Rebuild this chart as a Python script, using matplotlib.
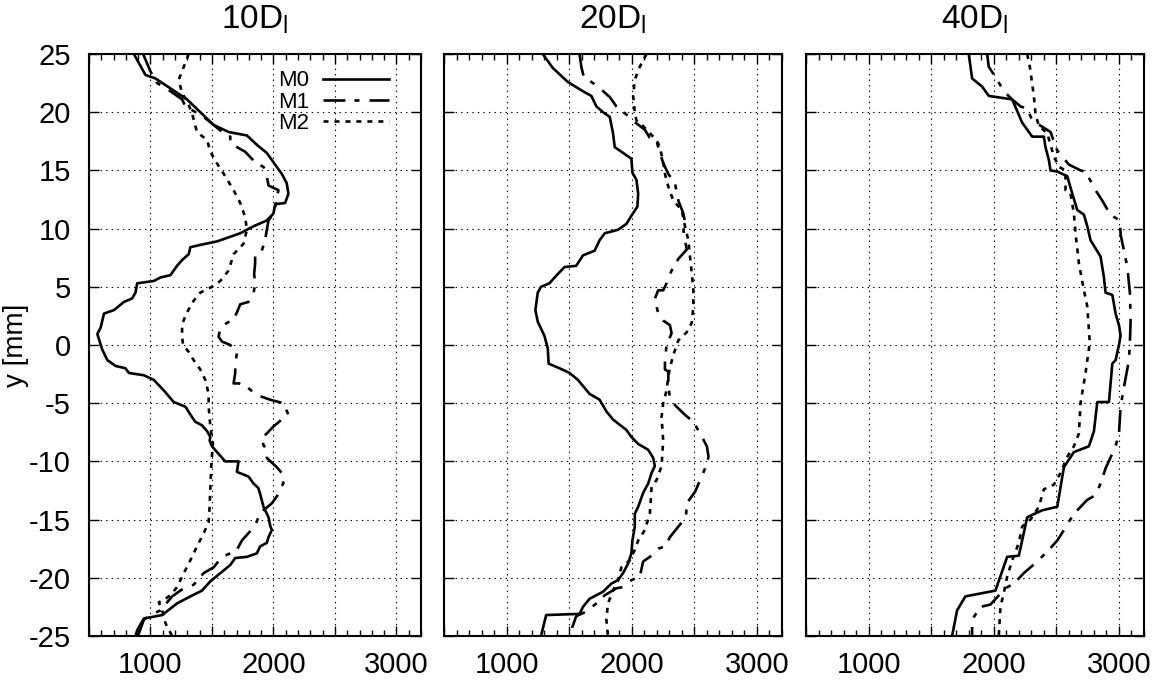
import numpy as np
import matplotlib
matplotlib.use("Agg")
import matplotlib.pyplot as plt
from matplotlib.ticker import MultipleLocator, FuncFormatter

plt.rcParams['font.family'] = ['Liberation Sans', 'DejaVu Sans']
plt.rcParams['mathtext.default'] = 'regular'
plt.rcParams['lines.scale_dashes'] = False
plt.rcParams['axes.unicode_minus'] = False

titles = [r'10D$_{l}$', r'20D$_{l}$', r'40D$_{l}$']
labels = ["M0", "M1", "M2"]

# panel 1 (10 D_l): (x, y) pairs
p1_m0_x = [865, 959, 1040, 1297, 1514, 1635, 1784, 1865, 1946, 2027, 2068, 2108, 2122, 2095, 2014, 2000,
           1946, 1838, 1730, 1541, 1405, 1324, 1311, 1257, 1216, 1162, 1081, 1027, 892, 878, 851, 784, 703,
           622, 595, 568, 581, 608, 649, 716, 797, 824, 946, 1027, 1108, 1189, 1284, 1338, 1365, 1419, 1460,
           1487, 1481, 1500, 1541, 1608, 1716, 1703, 1797, 1838, 1878, 1892, 1919, 1960, 1973, 1987, 1960,
           1946, 1892, 1865, 1784, 1689, 1649, 1568, 1487, 1419, 1324, 1216, 1095, 946, 892, 878]
p1_m0_y = [25, 23.2, 22.9, 21.1, 18.9, 18.3, 18.0, 17.2, 16.5, 15.3, 14.7, 13.9, 13.0, 12.2, 12.1, 11.3,
           10.7, 10.2, 9.6, 8.9, 8.6, 8.4, 7.8, 7.3, 6.8, 6.0, 5.8, 5.5, 5.3, 4.5, 4.0, 3.7, 3.0,
           2.7, 1.5, 0.95, 0.5, -0.4, -1.3, -1.8, -2.0, -2.4, -2.6, -3.0, -3.9, -4.9, -5.3, -6.2, -6.6, -6.9, -7.4,
           -7.9, -8.2, -8.7, -9.2, -10.0, -10.0, -10.9, -11.3, -11.9, -12.3, -12.8, -13.9, -14.8, -15.5, -15.9, -16.5,
           -17.0, -17.3, -17.9, -18.2, -18.3, -18.9, -19.6, -20.3, -21.1, -21.6, -22.2, -23.2, -23.5, -24.5, -25]

p1_m1_x = [940, 1000, 1054, 1122, 1189, 1257, 1284, 1351, 1432, 1514, 1595, 1649, 1649, 1703, 1770, 1824,
           1865, 1919, 1946, 1960, 2041, 2027, 2022, 2000, 1960, 1946, 1932, 1905, 1851, 1851, 1843, 1851,
           1838, 1797, 1730, 1703, 1676, 1622, 1568, 1554, 1581, 1649, 1703, 1689, 1689, 1676, 1720, 1784,
           1865, 1973, 2081, 2122, 2068, 2000, 1946, 1905, 1919, 1946, 1946, 2027, 2068, 2081, 2054, 2041,
           1987, 1919, 1878, 1851, 1811, 1743, 1703, 1649, 1581, 1514, 1432, 1351, 1270, 1176, 1081, 1000,
           946, 905, 892]
p1_m1_y = [25, 23.5, 22.5, 22.1, 21.6, 21.1, 20.5, 20.1, 19.6, 18.9, 18.2, 17.9, 17.3, 17.0, 16.6, 16.0,
           15.6, 15.3, 14.5, 13.7, 13.3, 12.7, 12.2, 11.3, 10.7, 9.9, 9.0, 8.1, 7.8, 7.0, 6.1, 5.3,
           4.4, 3.7, 3.5, 2.8, 2.2, 1.9, 1.5, 0.7, 0.3, 0.0, -0.7, -1.6, -2.4, -3.3, -3.3, -3.6,
           -4.3, -4.7, -5.0, -6.0, -6.4, -7.0, -7.6, -8.0, -8.6, -9.0, -9.7, -10.5, -11.0, -11.9, -12.3, -12.8,
           -13.6, -14.2, -14.8, -15.5, -16.0, -16.8, -17.6, -17.9, -18.2, -19.1, -19.6, -20.6, -20.9, -21.6, -22.8, -23.2,
           -23.6, -24.8, -25]

p1_m2_x = [1311, 1230, 1257, 1297, 1338, 1378, 1460, 1487, 1541, 1608, 1676, 1730, 1770, 1784, 1757, 1676,
           1635, 1568, 1500, 1405, 1351, 1297, 1257, 1257, 1265, 1311, 1351, 1405, 1446, 1473, 1473, 1487,
           1508, 1495, 1487, 1481, 1473, 1432, 1378, 1324, 1257, 1216, 1162, 1108, 1068, 1095, 1122, 1176]
p1_m2_y = [25, 22.8, 21.6, 21.0, 19.9, 18.3, 17.6, 16.6, 15.6, 14.5, 13.3, 12.2, 11.0, 9.9, 8.7, 7.8,
           6.4, 5.5, 5.0, 4.5, 3.8, 2.8, 1.8, 0.7, 0.0, -0.6, -1.3, -2.1, -3.0, -4.2, -5.3, -7.0,
           -8.5, -10.2, -12.2, -13.9, -15.2, -16.2, -17.3, -18.5, -19.9, -20.8, -21.5, -21.9, -22.1, -22.8, -23.9, -25]

# panel 2 (20 D_l)
p2_m0_x = [1289, 1369, 1489, 1610, 1677, 1717, 1770, 1824, 1850, 1864, 1931, 1997, 2005, 2037, 2051, 2045,
           1997, 1957, 1890, 1784, 1743, 1703, 1610, 1556, 1463, 1409, 1342, 1275, 1249, 1230, 1249, 1302,
           1329, 1336, 1423, 1503, 1570, 1663, 1743, 1797, 1850, 1957, 1997, 2051, 2131, 2171, 2184, 2158,
           2131, 2091, 2051, 2024, 2024, 2005, 1997, 1970, 1930, 1890, 1837, 1770, 1663, 1610, 1583, 1316, 1275]
p2_m0_y = [25, 23.8, 22.6, 21.8, 21.4, 20.5, 20.0, 19.6, 18.2, 17.0, 16.5, 16.0, 14.8, 14.2, 13.0, 11.9,
           11.1, 10.4, 9.9, 9.6, 9.0, 8.1, 7.7, 6.8, 6.7, 6.1, 5.3, 5.0, 4.5, 3.0, 2.0, 0.8,
           -0.3, -1.6, -2.0, -2.4, -3.0, -4.2, -4.7, -5.7, -6.4, -7.3, -7.9, -8.5, -9.0, -9.7, -10.4, -11.0,
           -11.9, -12.7, -13.9, -14.5, -15.6, -16.8, -17.9, -18.8, -19.6, -20.2, -20.5, -21.2, -21.8, -22.5, -23.1, -23.2, -25]

p2_m1_x = [1583, 1597, 1615, 1650, 1730, 1824, 1877, 1957, 2030, 2104, 2144, 2198, 2225, 2252, 2292, 2345,
           2372, 2412, 2433, 2412, 2425, 2439, 2372, 2318, 2278, 2251, 2211, 2185, 2211, 2251, 2305, 2318,
           2278, 2265, 2265, 2292, 2292, 2305, 2358, 2425, 2492, 2546, 2600, 2613, 2586, 2546, 2506, 2439,
           2433, 2372, 2305, 2265, 2211, 2171, 2091, 2064, 1997, 1930, 1877, 1784, 1717, 1637, 1556, 1500]
p2_m1_y = [25, 23.9, 23.1, 22.8, 22.2, 21.3, 20.5, 19.8, 19.1, 18.5, 17.8, 17.5, 16.5, 15.6, 14.7, 13.9,
           12.4, 11.3, 10.2, 9.9, 9.0, 8.2, 7.4, 6.4, 5.3, 4.7, 4.7, 4.0, 2.7, 2.1, 1.7, 1.0,
           0.0, -1.3, -2.1, -2.3, -3.3, -4.7, -5.3, -6.0, -6.6, -7.6, -8.7, -9.6, -10.6, -11.6, -12.6, -13.6,
           -14.8, -15.6, -16.5, -17.3, -17.5, -18.0, -18.6, -19.9, -20.2, -20.8, -20.9, -21.5, -22.2, -22.9, -23.3, -25]

p2_m2_x = [2118, 2064, 2024, 2011, 2024, 2037, 2091, 2144, 2198, 2225, 2252, 2265, 2292, 2332, 2399, 2425,
           2452, 2465, 2479, 2492, 2492, 2479, 2439, 2372, 2340, 2305, 2292, 2278, 2251, 2238, 2251, 2238,
           2198, 2158, 2152, 2144, 2104, 2051, 2024, 1984, 1917, 1890, 1850, 1810, 1797, 1810]
p2_m2_y = [25, 23.9, 22.8, 21.4, 20.0, 19.3, 18.8, 18.2, 17.6, 17.0, 15.6, 14.7, 13.6, 12.4, 11.6, 10.2,
           9.0, 7.6, 6.2, 4.7, 3.3, 1.9, 1.1, 0.4, -0.6, -1.9, -2.7, -3.9, -5.0, -6.2, -8.2, -10.4,
           -11.6, -12.2, -13.3, -14.5, -15.9, -16.8, -17.6, -18.5, -19.1, -20.2, -21.1, -22.2, -23.6, -25]

# panel 3 (40 D_l)
p3_m0_x = [1800, 1827, 1907, 1960, 2147, 2187, 2227, 2307, 2400, 2413, 2440, 2453, 2507, 2587, 2627, 2667,
           2720, 2747, 2773, 2853, 2880, 2893, 2947, 2973, 3000, 3013, 3000, 2973, 2947, 2920, 2827, 2800,
           2760, 2640, 2560, 2507, 2387, 2267, 2200, 2107, 2013, 1773, 1707, 1667]
p3_m0_y = [25, 22.9, 22.2, 21.4, 21.1, 20.1, 19.1, 17.9, 17.9, 17.0, 15.9, 15.0, 14.9, 14.5, 13.0, 11.6,
           11.2, 10.2, 9.0, 7.6, 5.8, 4.5, 4.3, 2.7, 1.7, 0.8, 0.0, -1.3, -1.6, -4.9, -4.9, -7.4,
           -8.7, -9.2, -10.5, -13.9, -14.2, -14.8, -18.1, -18.2, -21.1, -21.6, -22.8, -25]

p3_m1_x = [1947, 1960, 2027, 2080, 2147, 2213, 2267, 2307, 2453, 2507, 2600, 2693, 2733, 2813, 2867, 2920,
           2960, 3008, 3013, 3040, 3067, 3088, 3093, 3088, 3080, 3040, 3013, 3000, 2973, 2893, 2853, 2813,
           2747, 2640, 2560, 2507, 2440, 2347, 2240, 2160, 2093, 1973, 1893, 1827, 1827]
p3_m1_y = [25, 23.9, 22.8, 21.8, 21.1, 20.5, 20.3, 19.3, 18.3, 16.7, 15.5, 15.0, 14.9, 13.3, 12.4, 11.4,
           11.0, 10.7, 9.5, 8.1, 6.7, 4.4, 2.1, 0.4, -1.3, -3.6, -5.3, -7.6, -8.7, -10.6, -11.9, -12.9,
           -13.3, -14.5, -15.9, -16.8, -17.6, -18.6, -19.6, -20.5, -20.9, -22.3, -22.5, -23.6, -25]

p3_m2_x = [2267, 2288, 2320, 2333, 2360, 2427, 2480, 2520, 2573, 2573, 2613, 2640, 2653, 2680, 2720, 2747,
           2767, 2733, 2693, 2680, 2640, 2587, 2533, 2480, 2400, 2360, 2293, 2227, 2200, 2147, 2107, 2080,
           2053, 2040]
p3_m2_y = [25, 23.9, 21.4, 19.9, 18.8, 18.2, 16.2, 15.3, 15.0, 13.3, 13.0, 11.3, 9.6, 7.0, 4.7, 3.3,
           0.2, -2.4, -5.0, -7.6, -8.7, -9.6, -11.0, -12.0, -12.4, -13.9, -15.0, -15.6, -17.0, -18.5, -19.9, -21.3,
           -22.5, -25]

panels = [
    [(p1_m0_x, p1_m0_y), (p1_m1_x, p1_m1_y), (p1_m2_x, p1_m2_y)],
    [(p2_m0_x, p2_m0_y), (p2_m1_x, p2_m1_y), (p2_m2_x, p2_m2_y)],
    [(p3_m0_x, p3_m0_y), (p3_m1_x, p3_m1_y), (p3_m2_x, p3_m2_y)],
]

styles = ['-', (0, (15.8, 6.5, 3.6, 7.2)), (0, (3.6, 4.3))]

fig = plt.figure(figsize=(11.66, 6.86), dpi=100)
lefts = [89, 444, 806]
widths = [332, 338, 338]

for i in range(3):
    ax = fig.add_axes([lefts[i] / 1166, 50 / 686, widths[i] / 1166, 582 / 686])
    for (xs, ys), ls, lab in zip(panels[i], styles, labels):
        ax.plot(xs, ys, color='black', lw=1.9, linestyle=ls, label=lab)

    ax.set_xlim(500, 3200)
    ax.set_ylim(-25, 25)
    ax.xaxis.set_major_locator(MultipleLocator(500))
    ax.xaxis.set_minor_locator(MultipleLocator(100))
    ax.yaxis.set_major_locator(MultipleLocator(5))
    ax.xaxis.set_major_formatter(FuncFormatter(lambda v, p: "%d" % v if v % 1000 == 0 else ""))
    ax.tick_params(which='both', direction='in', top=True, right=True, labelsize=21, width=1)
    ax.tick_params(which='major', length=7)
    ax.tick_params(axis='x', which='major', pad=11)
    ax.tick_params(axis='y', which='major', pad=13)
    ax.tick_params(which='minor', length=4)
    ax.grid(True, which='major', color='black', linestyle=(0, (1, 3)), lw=0.8)
    for sp in ax.spines.values():
        sp.set_linewidth(1.5)
    ax.set_title(titles[i], fontsize=24, pad=18)
    if i == 0:
        ax.set_ylabel("y [mm]", fontsize=20, labelpad=0)
        ax.legend(loc='upper right', bbox_to_anchor=(0.905, 0.972), frameon=False, markerfirst=False,
                  fontsize=16, handlelength=3.0, handletextpad=0.6, labelspacing=0.02,
                  borderpad=0, borderaxespad=0)
    else:
        ax.set_yticklabels([])

fig.savefig("out.png", dpi=100)
